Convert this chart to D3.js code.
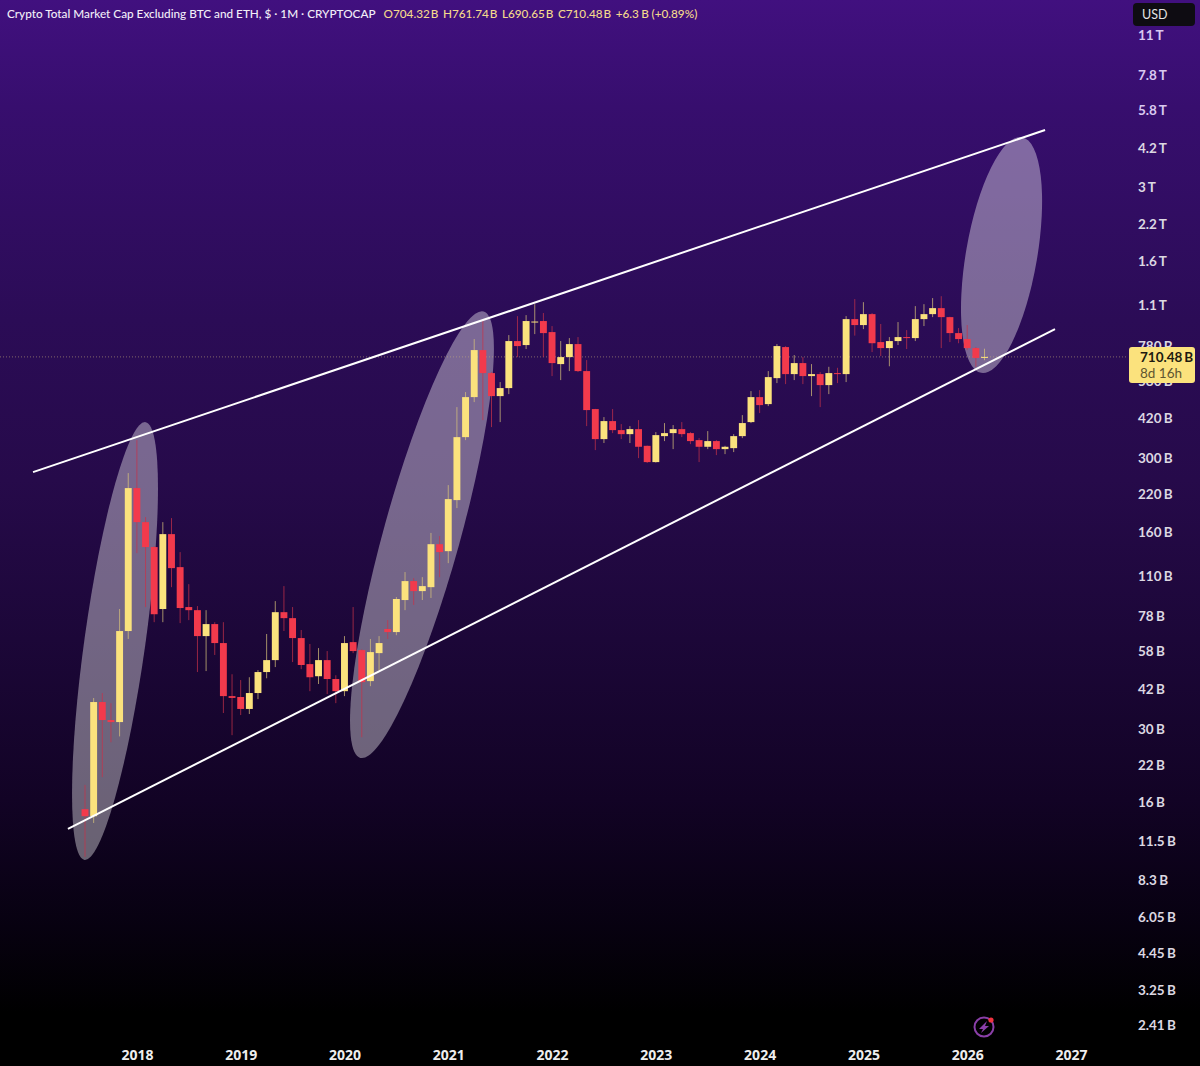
<!DOCTYPE html>
<html><head><meta charset="utf-8">
<script src="https://cdn.jsdelivr.net/npm/d3@7/dist/d3.min.js"></script>
<style>html,body{margin:0;padding:0;background:#000;overflow:hidden}svg{display:block}</style>
</head><body><svg id="c" width="1200" height="1066"></svg>
<script>
// Monthly candles, Jul 2017 - Mar 2026, values in billions of USD
const opens=[15.13,14.25,37.65,32.3,31.75,68.9,232.6,174.1,140.8,83.1,157.2,118.7,84.5,82.3,66,73.1,62.2,39.6,39.3,35.5,40.65,48.6,53.8,80.9,76.9,64.9,52,46.9,53.8,45.8,41.3,62.7,58.6,45,57.1,70.1,68.3,89.7,105.4,96.8,100.1,144.3,136,210,358.9,504.6,752.9,619,508.9,544.8,812.9,785.7,955.6,964,877.5,668.3,709.3,792.3,629.6,455.7,352.9,411.4,381,368.2,384.2,333.3,290.2,362,371.4,384.2,371.4,349.9,330.6,347,324.1,326.8,362,407.9,504.6,475.4,593,772.4,613.7,674,603.4,613.7,558.9,619,613.7,980,931.5,1022.5,805.9,765.8,812.9,840.9,833.8,980,1022.5,1076,996.7,870,826.8,765.8,704.32];
const highs=[18.6,38.96,40.65,37.3,83.1,264.3,349.9,181.7,142,174.1,180.2,134.9,102.7,85.2,82.3,74.3,74.3,47.7,45.4,46.5,49.4,67.2,88.9,101,84.5,69.5,61.7,59.6,58.1,47.3,66,84.5,59,64.4,66,75.6,92,113.8,108.1,109,158.8,154.6,238.6,463.4,526.6,826.8,972,625,573.4,855.4,1005,1014,1113,1032,923.6,812.9,833.8,840.9,691.5,456.5,425.6,455.7,401,394.2,414.9,334,374.6,404.5,397.6,407.9,374.6,355.9,377.8,349.9,333.3,368.2,432.9,531,535.6,629.6,792.3,779,721.5,709.3,668.3,624.3,653,647.5,1005,1162,1132,1032,940,840.9,955.6,892.6,1094.6,1113,1172,1191,1000,908,931.5,772.4,761.74];
const lows=[10.08,13.45,19.88,26.74,28.1,64.4,133.7,84.5,74.3,74.3,100.1,73.7,75.6,48.6,49,56.2,34.3,28.4,33.7,34,38.6,46.1,50.7,68.9,52.9,49.8,41.3,43.9,40.3,37.3,39.6,57.1,27.9,43.1,49.4,64.4,66.5,82.3,86,89.7,91.3,109,122.8,196.2,349.9,483.6,414.9,390.9,407.9,517.6,709.3,759.4,862.7,709.3,603.4,583.2,629.6,624.3,394.2,321.4,341.3,371.4,352.9,341.3,300.2,287.8,289,347,324.1,358.9,338.2,290.2,324.1,308,310.6,316,355.9,404.5,440.4,467.4,568.5,563.6,583.2,563.6,508.9,463.4,517.6,568.5,573.4,851.5,900,740.2,715.5,656,785.7,759.4,812.9,923.6,996.7,765.8,805.9,798.2,752.9,653,690.65];
const closes=[14.25,37.65,32.3,31.75,68.9,232.6,174.1,140.8,79.5,157.2,117.7,83.8,82.3,66,73.1,62.2,39.6,39,35.5,40.65,48.6,53.8,80.9,76.9,64.9,51.6,46.5,53.8,45.8,41.3,62.2,58.1,44.6,57.6,62.2,68.3,90.5,105.4,96.8,101,144.3,134.9,211.8,358.9,504.6,752.9,619,508.9,544.8,812.9,779,964,960,870,674,709.3,792.3,629.6,451.8,352.9,411.4,381,368.2,384.2,330.6,290.2,365.1,371.4,384.2,368.2,347,330.6,347,324.1,330.6,362,404.5,504.6,471.4,598.2,779,613.7,674,603.4,613.7,558.9,619,613.7,980,931.5,1022.5,798.2,765.8,812.9,840.9,833.8,980,1022.5,1076,996.7,870,826.8,765.8,704.32,710.48];

const priceTicks=[11000,7800,5800,4200,3000,2200,1600,1100,780,580,420,300,220,160,110,78,58,42,30,22,16,11.5,8.3,6.05,4.45,3.25,2.41];
const priceLabels=["11 T","7.8 T","5.8 T","4.2 T","3 T","2.2 T","1.6 T","1.1 T","780 B","580 B","420 B","300 B","220 B","160 B","110 B","78 B","58 B","42 B","30 B","22 B","16 B","11.5 B","8.3 B","6.05 B","4.45 B","3.25 B","2.41 B"];
const yearMonths=[6,18,30,42,54,66,78,90,102,114];
const yearLabels=["2018","2019","2020","2021","2022","2023","2024","2025","2026","2027"];

// Annotations, in month index / price space
const trendUpper=[[-6.01,266.5],[111,4898]];
const trendLower=[[-1.97,12.8],[112.15,900]];
const ovalCentres=[[3.47,63.3],[38.96,156.5],[105.97,1691]];
const ovalSemiMajor=[221,231.6,119.6];
const ovalSemiMinor=[30.5,38.4,35.6];
const ovalTilt=[7.95,15.45,9.8];

const lastPrice=710.48;
const titleMain="Crypto Total Market Cap Excluding BTC and ETH, $ · 1M · CRYPTOCAP";
const ohlcParts=["O704.32 B","H761.74 B","L690.65 B","C710.48 B","+6.3 B (+0.89%)"];

const YEL="#fbe27d",RED="#f23a4c";
const svg=d3.select("#c");
const defs=svg.append("defs");
const g=defs.append("linearGradient").attr("id","bg").attr("x1",0).attr("x2",0).attr("y1",0).attr("y2",1);
[[0,"#41107f"],[0.1,"#370e6e"],[0.3,"#2b0c56"],[0.45,"#260a4a"],[0.6,"#1c0738"],[0.75,"#120325"],[0.87,"#070110"],[0.95,"#000000"],[1,"#000000"]]
 .forEach(s=>g.append("stop").attr("offset",s[0]).attr("stop-color",s[1]));
svg.append("rect").attr("width",1200).attr("height",1066).attr("fill","url(#bg)");

const x=d3.scaleLinear().domain([0,114]).range([85,1071]);
const y=d3.scaleLog().domain([11000,2.41]).range([35,1025]);

// ovals
svg.append("g").selectAll("ellipse").data(ovalCentres).join("ellipse")
 .attr("rx",(d,i)=>ovalSemiMinor[i]).attr("ry",(d,i)=>ovalSemiMajor[i])
 .attr("transform",(d,i)=>`translate(${x(d[0])},${y(d[1])}) rotate(${ovalTilt[i]})`)
 .attr("fill","#ffffff").attr("fill-opacity",0.38);

// price line
svg.append("line").attr("x1",0).attr("x2",1128).attr("y1",y(lastPrice)).attr("y2",y(lastPrice))
 .attr("stroke","#c9b27c").attr("stroke-opacity",0.55).attr("stroke-dasharray","1 2");

// candles
const W=6.9;
const c=svg.append("g").selectAll("g").data(opens.map((o,i)=>i)).join("g");
c.append("line").attr("x1",i=>x(i)).attr("x2",i=>x(i)).attr("y1",i=>y(highs[i])).attr("y2",i=>y(lows[i]))
 .attr("stroke",i=>closes[i]>=opens[i]?"#d8c47a":"#c8324a").attr("stroke-opacity",0.72).attr("stroke-width",1);
c.append("rect").attr("x",i=>x(i)-W/2).attr("width",W)
 .attr("y",i=>Math.min(y(opens[i]),y(closes[i])))
 .attr("height",i=>Math.max(1,Math.abs(y(opens[i])-y(closes[i]))))
 .attr("fill",i=>closes[i]>=opens[i]?YEL:RED);

// trend lines
const ln=d3.line().x(d=>x(d[0])).y(d=>y(d[1]));
svg.selectAll("path.tl").data([trendUpper,trendLower]).join("path").attr("class","tl")
 .attr("d",ln).attr("fill","none").attr("stroke","#fff").attr("stroke-width",2);

// price axis
const ya=svg.append("g").attr("transform","translate(1138,0)")
 .call(d3.axisRight(y).tickValues(priceTicks).tickSize(0).tickPadding(0).tickFormat((d,i)=>priceLabels[i]));
ya.select(".domain").remove();
ya.selectAll("text").attr("x",0).attr("font-family","Lato, sans-serif").attr("font-size",13.5).attr("font-weight",700)
 .attr("fill",d=>y(d)<120?"#d9c8f0":"#dcd8e2").style("word-spacing","-1px");

// time axis
const xa=svg.append("g").attr("transform","translate(0,1050)")
 .call(d3.axisBottom(x).tickValues(yearMonths).tickSize(0).tickPadding(0).tickFormat((d,i)=>yearLabels[i]));
xa.select(".domain").remove();
xa.selectAll("text").attr("font-family","'Open Sans', sans-serif").attr("font-size",14).attr("font-weight",700).attr("fill","#eeeeee");

// title
const t=svg.append("text").attr("x",7).attr("y",17.5).attr("font-family","Lato, sans-serif").attr("font-size",11.75).attr("font-weight",500);
t.append("tspan").attr("fill","#f2eef8").text(titleMain);
ohlcParts.forEach((p,i)=>{
 t.append("tspan").attr("fill","#f4d98c").attr("dx",i==0?8:4.5).style("word-spacing",i==4?"-0.5px":"-2px").text(p);
});

// USD button
svg.append("rect").attr("x",1133).attr("y",3).attr("width",62).attr("height",23).attr("rx",4).attr("fill","#0e0c12");
svg.append("text").attr("x",1142).attr("y",19).attr("font-family","Lato, sans-serif").attr("font-size",12.5).attr("fill","#e4e4e4").text("USD");

// last price tag
svg.append("rect").attr("x",1129).attr("y",347).attr("width",66).attr("height",36).attr("rx",3).attr("fill",YEL);
svg.append("text").attr("x",1140).attr("y",362).attr("font-family","Lato, sans-serif").attr("font-size",13.5).attr("font-weight",700).attr("fill","#1d1a10").style("word-spacing","-1.5px").text("710.48 B");
svg.append("text").attr("x",1140).attr("y",378).attr("font-family","Lato, sans-serif").attr("font-size",13.5).attr("fill","#5f5630").text("8d 16h");

// lightning badge
const b=svg.append("g").attr("transform","translate(984,1027)");
b.append("circle").attr("r",9.5).attr("fill","none").attr("stroke","#8a3fa8").attr("stroke-width",2);
b.append("path").attr("d","M3,-6 L-5,2 L-1,2 L-3,6 L5,-1 L1,-1 Z").attr("fill","#8a3fa8");
b.append("circle").attr("cx",7).attr("cy",-7).attr("r",2.6).attr("fill","#f0333f");
</script></body></html>
